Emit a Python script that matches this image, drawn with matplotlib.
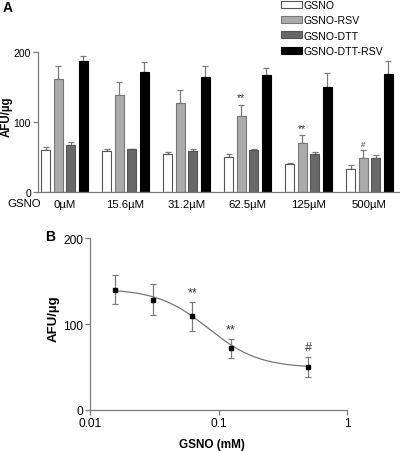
import matplotlib
matplotlib.use("Agg")
import matplotlib.pyplot as plt
import numpy as np

plt.rcParams['font.family'] = ['Liberation Sans', 'DejaVu Sans']

# ---- Panel A data ----
concs = ["0µM", "15.6µM", "31.2µM", "62.5µM", "125µM", "500µM"]
series = ["GSNO", "GSNO-RSV", "GSNO-DTT", "GSNO-DTT-RSV"]
gsno = [60, 58, 54, 50, 40, 33]
gsno_err = [4, 4, 3, 4, 1, 6]
gsno_rsv = [162, 139, 127, 108, 70, 48]
gsno_rsv_err = [18, 18, 19, 17, 11, 12]
gsno_dtt = [67, 61, 59, 60, 55, 49]
gsno_dtt_err = [5, 1, 2, 2, 2, 4]
gsno_dtt_rsv = [187, 171, 164, 167, 150, 168]
gsno_dtt_rsv_err = [7, 15, 16, 10, 20, 19]
marks_A = {3: "**", 4: "**", 5: "#"}

# ---- Panel B data ----
conc_mM = [0.0156, 0.0312, 0.0625, 0.125, 0.5]
afu = [140, 128, 109, 72, 50]
afu_err = [17, 18, 17, 11, 12]
marks_B = ["", "", "**", "**", "#"]
# sigmoid fit parameters (top, bottom, logEC50, hill)
fit_top, fit_bottom, fit_logec50, fit_hill = 141, 49, -1.08, 2.2

W, H = 400, 452
fig = plt.figure(figsize=(W / 100, H / 100), dpi=100)
axc = "#7a7a7a"

# ---------------- Panel A ----------------
axA = fig.add_axes([38 / W, 1 - 193 / H, (W - 38) / W, 140 / H])
vals = [gsno, gsno_rsv, gsno_dtt, gsno_dtt_rsv]
errs = [gsno_err, gsno_rsv_err, gsno_dtt_err, gsno_dtt_rsv_err]
faces = ["white", "#ababab", "#686868", "black"]
edges = ["#555555", "#777777", "#555555", "black"]
x = np.arange(len(concs))
step = 12.5 / 61
bw = 9 / 61
handles = []
for i in range(4):
    xi = x + (i - 1.5) * step
    h = axA.bar(xi, vals[i], bw, color=faces[i], edgecolor=edges[i], linewidth=0.8,
                label=series[i], zorder=2)
    axA.errorbar(xi, vals[i], yerr=[np.zeros(len(concs)), errs[i]], fmt="none",
                 ecolor=axc, elinewidth=0.9, capsize=2.2, capthick=0.9, zorder=1)
    handles.append(h)
for gi, s in marks_A.items():
    xi = gi + (-0.5) * step
    top = gsno_rsv[gi] + gsno_rsv_err[gi]
    axA.text(xi, top + 3, s, ha="center", va="bottom", fontsize=7.5 if s == "**" else 5.5,
             color="#333333")
axA.set_xlim(-0.434, 5.5)
axA.set_ylim(0, 200)
axA.set_yticks([0, 100, 200])
axA.set_xticks(x)
axA.set_xticklabels(concs, fontsize=8.2)
axA.tick_params(axis="x", length=0, pad=5)
axA.tick_params(axis="y", length=3.5, width=0.9, color=axc, labelsize=7.5, pad=1.5)
for sp in ["top", "right"]:
    axA.spines[sp].set_visible(False)
for sp in ["left", "bottom"]:
    axA.spines[sp].set_color(axc)
    axA.spines[sp].set_linewidth(0.9)
axA.set_ylabel("AFU/µg", fontsize=8.3, fontweight="bold")
axA.yaxis.set_label_coords((13 - 38) / (W - 38), 0.543)
fig.text(7 / W, 1 - 204 / H, "GSNO", fontsize=8.2, va="center", ha="left")
fig.text(3 / W, 1 - 8 / H, "A", fontsize=10, fontweight="bold", va="center", ha="left")

leg = fig.legend(handles=handles, labels=series, loc="upper left",
                 bbox_to_anchor=(281 / W, 1 - 1 / H), bbox_transform=fig.transFigure,
                 frameon=False, fontsize=7.6, handlelength=2.0, handleheight=0.65,
                 handletextpad=0.15, labelspacing=0.5, borderaxespad=0, borderpad=0)

# ---------------- Panel B ----------------
axB = fig.add_axes([90 / W, 1 - 411 / H, (347 - 90) / W, (411 - 239) / H])
xs = np.logspace(np.log10(conc_mM[0]), np.log10(conc_mM[-1]), 200)
curve = fit_bottom + (fit_top - fit_bottom) / (1 + 10 ** ((np.log10(xs) - fit_logec50) * fit_hill))
axB.plot(xs, curve, color="#777777", lw=0.9, zorder=1)
axB.errorbar(conc_mM, afu, yerr=afu_err, fmt="s", color="black", ms=3.3,
             ecolor=axc, elinewidth=0.9, capsize=2.5, capthick=0.9, zorder=2)
for xv, yv, ev, s in zip(conc_mM, afu, afu_err, marks_B):
    if s:
        axB.text(xv, yv + ev + 4, s, ha="center", va="bottom", fontsize=9, color="#333333")
axB.set_xscale("log")
axB.set_xlim(0.01, 1)
axB.set_ylim(0, 200)
axB.set_yticks([0, 100, 200])
axB.set_xticks([0.01, 0.1, 1])
axB.set_xticklabels(["0.01", "0.1", "1"])
axB.xaxis.set_minor_locator(matplotlib.ticker.NullLocator())
axB.tick_params(axis="both", length=3.5, width=0.9, color=axc, labelsize=8.6, pad=1.5)
for sp in ["top", "right"]:
    axB.spines[sp].set_visible(False)
for sp in ["left", "bottom"]:
    axB.spines[sp].set_color(axc)
    axB.spines[sp].set_linewidth(0.9)
axB.set_ylabel("AFU/µg", fontsize=9.5, fontweight="bold")
axB.yaxis.set_label_coords((60 - 90) / (347 - 90), 0.535)
axB.set_xlabel("GSNO (mM)", fontsize=8.5, fontweight="bold")
axB.xaxis.set_label_coords((212 - 90) / (347 - 90), (411 - 439) / (411 - 239))
fig.text(45 / W, 1 - 237 / H, "B", fontsize=10, fontweight="bold", va="center", ha="left")

fig.savefig("out.png", dpi=100)
